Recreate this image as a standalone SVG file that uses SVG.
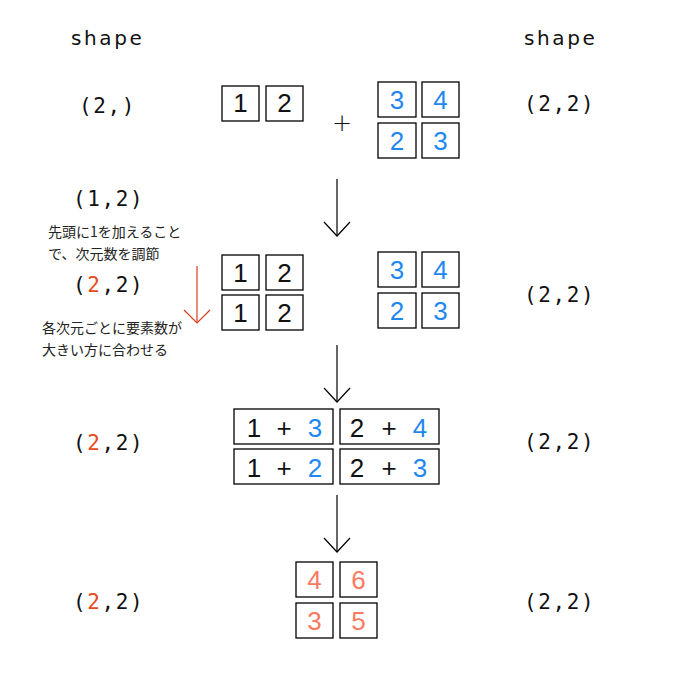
<svg xmlns="http://www.w3.org/2000/svg" width="680" height="680" viewBox="0 0 680 680">
<style>
.box{fill:#fff;stroke:#000;stroke-width:1.3}
.d{font-family:"Liberation Sans","DejaVu Sans",sans-serif;font-size:26px;text-anchor:middle}
.k{fill:#111}.b{fill:#1f87f0}.s{fill:#fa7a62}.r{fill:#e84a1c}
.sh{font-family:"DejaVu Sans Mono","Liberation Mono",monospace;font-size:21px;letter-spacing:1.6px;fill:#111}
.lbl{font-family:"DejaVu Sans","Noto Sans",sans-serif;font-size:20px;letter-spacing:2.6px;fill:#111}
.jp{font-family:"Noto Sans CJK JP",sans-serif;font-size:14px;fill:#222}
.ar{fill:none;stroke:#000;stroke-width:1.2}
</style>
<defs>
<marker id="chevr" markerUnits="userSpaceOnUse" markerWidth="30" markerHeight="30" orient="auto" overflow="visible">
<path d="M-13,-13 L0,0 L-13,13" fill="none" stroke="#d83c1c" stroke-width="1.2"/>
</marker>
<marker id="chevk" markerUnits="userSpaceOnUse" markerWidth="30" markerHeight="30" orient="auto" overflow="visible">
<path d="M-14,-13 L0,0 L-14,13" fill="none" stroke="#000" stroke-width="1.2"/>
</marker>
</defs>

<g id="labels">
<text class="lbl" x="71" y="45">shape</text>
<text class="lbl" x="524" y="45">shape</text>
<text class="sh" x="79" y="113">(2,)</text>
<text class="sh" x="524" y="111">(2,2)</text>
<text class="sh" x="73" y="206">(1,2)</text>
<text class="sh" x="73" y="292">(<tspan class="r">2</tspan>,2)</text>
<text class="sh" x="524" y="302">(2,2)</text>
<text class="sh" x="73" y="450">(<tspan class="r">2</tspan>,2)</text>
<text class="sh" x="524" y="449">(2,2)</text>
<text class="sh" x="73" y="609">(<tspan class="r">2</tspan>,2)</text>
<text class="sh" x="524" y="609">(2,2)</text>
<text class="jp" x="48" y="237">先頭に1を加えること</text>
<text class="jp" x="48" y="259">で、次元数を調節</text>
<text class="jp" x="42" y="333">各次元ごとに要素数が</text>
<text class="jp" x="42" y="355">大きい方に合わせる</text>
</g>

<g id="row1-a">
<rect class="box" x="222" y="86" width="37" height="35"/>
<rect class="box" x="266" y="86" width="37" height="35"/>
<text class="d k" x="240.5" y="112">1</text>
<text class="d k" x="284.5" y="112">2</text>
</g>
<g id="plus"><text x="342" y="131" style="font-family:'DejaVu Sans',sans-serif;font-size:24px;font-weight:200;text-anchor:middle;fill:#111">+</text></g>
<g id="row1-b">
<rect class="box" x="378" y="82" width="38" height="35"/>
<rect class="box" x="422" y="82" width="37" height="35"/>
<rect class="box" x="378" y="123" width="38" height="35"/>
<rect class="box" x="422" y="123" width="37" height="35"/>
<text class="d b" x="397" y="109">3</text>
<text class="d b" x="440.5" y="109">4</text>
<text class="d b" x="397" y="150">2</text>
<text class="d b" x="440.5" y="150">3</text>
</g>

<g id="row2-a">
<rect class="box" x="222" y="255" width="37" height="35"/>
<rect class="box" x="266" y="255" width="37" height="35"/>
<rect class="box" x="222" y="295" width="37" height="35"/>
<rect class="box" x="266" y="295" width="37" height="35"/>
<text class="d k" x="240.5" y="282">1</text>
<text class="d k" x="284.5" y="282">2</text>
<text class="d k" x="240.5" y="322">1</text>
<text class="d k" x="284.5" y="322">2</text>
</g>
<g id="row2-b">
<rect class="box" x="378" y="252" width="38" height="35"/>
<rect class="box" x="422" y="252" width="37" height="35"/>
<rect class="box" x="378" y="293" width="38" height="35"/>
<rect class="box" x="422" y="293" width="37" height="35"/>
<text class="d b" x="397" y="279">3</text>
<text class="d b" x="440.5" y="279">4</text>
<text class="d b" x="397" y="320">2</text>
<text class="d b" x="440.5" y="320">3</text>
</g>

<g id="row3">
<rect class="box" x="234" y="409" width="99" height="35"/>
<rect class="box" x="340" y="409" width="99" height="35"/>
<rect class="box" x="234" y="449" width="99" height="35"/>
<rect class="box" x="340" y="449" width="99" height="35"/>
<text class="d k" x="254" y="437">1</text><text class="d k" x="284" y="437">+</text><text class="d b" x="315" y="437">3</text>
<text class="d k" x="357" y="437">2</text><text class="d k" x="389" y="437">+</text><text class="d b" x="420" y="437">4</text>
<text class="d k" x="254" y="477">1</text><text class="d k" x="284" y="477">+</text><text class="d b" x="315" y="477">2</text>
<text class="d k" x="357" y="477">2</text><text class="d k" x="389" y="477">+</text><text class="d b" x="420" y="477">3</text>
</g>

<g id="row4">
<rect class="box" x="296" y="562" width="37" height="35"/>
<rect class="box" x="340" y="562" width="37" height="35"/>
<rect class="box" x="296" y="603" width="37" height="35"/>
<rect class="box" x="340" y="603" width="37" height="35"/>
<text class="d s" x="314.5" y="589">4</text>
<text class="d s" x="358.5" y="589">6</text>
<text class="d s" x="314.5" y="630">3</text>
<text class="d s" x="358.5" y="630">5</text>
</g>

<g id="connectors">
<line class="ar" x1="337" y1="179" x2="337" y2="236" marker-end="url(#chevk)"/>
<line class="ar" x1="337" y1="345" x2="337" y2="402" marker-end="url(#chevk)"/>
<line class="ar" x1="337" y1="495" x2="337" y2="552" marker-end="url(#chevk)"/>
<line x1="197" y1="266" x2="197" y2="323" stroke="#d83c1c" stroke-width="1.2" marker-end="url(#chevr)"/>
</g>
</svg>
